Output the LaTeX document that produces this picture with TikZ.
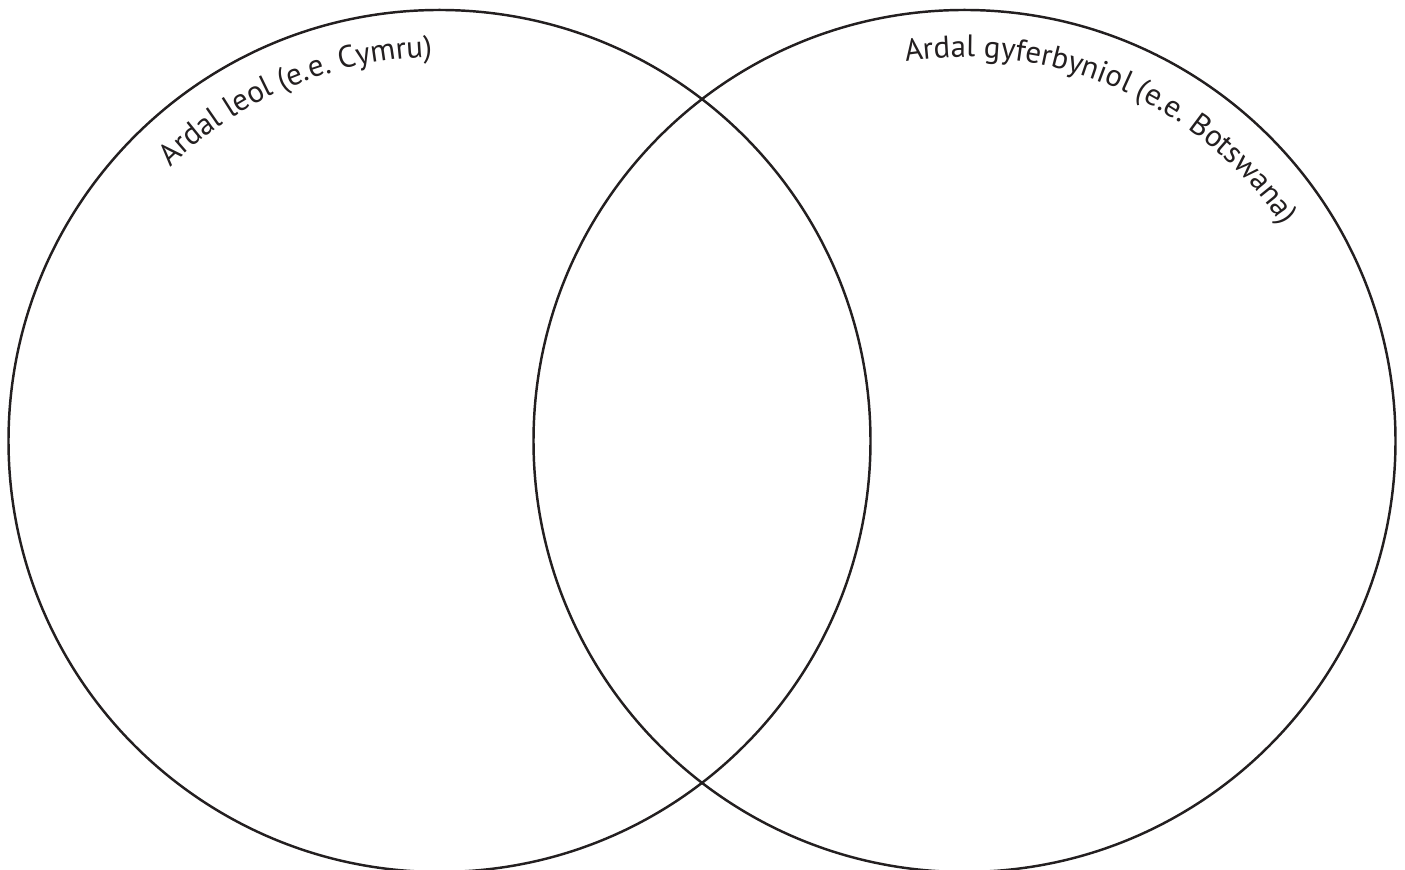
\documentclass[tikz,border=0pt]{standalone}
\usepackage{fontspec}
\usetikzlibrary{decorations.text}
\newfontfamily\labelfont{PT Sans}
\definecolor{ink}{RGB}{35,31,32}
\tikzset{
  set/.style={circle,draw=ink,line width=0.7pt,minimum size=8.62cm,inner sep=0pt,outer sep=0pt},
  arclabel/.style={decorate,decoration={text along path,text align=left,
    text={|\labelfont\fontsize{8.8}{11}\selectfont\color{ink}|#1}}},
}
\begin{document}
\begin{tikzpicture}
  \useasboundingbox (0,0) rectangle (14.05,8.70);
  \clip (0,0) rectangle (14.05,8.70);
  % two sets
  \node[set] (lleol) at (4.395,4.29) {};
  \node[set] (gyfer) at (9.645,4.29) {};
  % labels along the inside of each circle
  \path[arclabel={Ardal leol (e.e. Cymru)}]
    (lleol.center) ++(134.5:3.84) arc[start angle=134.5,end angle=70,radius=3.84];
  \path[arclabel={Ardal gyferbyniol (e.e. Botswana)}]
    (gyfer.center) ++(98.8:3.84) arc[start angle=98.8,end angle=10,radius=3.84];
\end{tikzpicture}
\end{document}
